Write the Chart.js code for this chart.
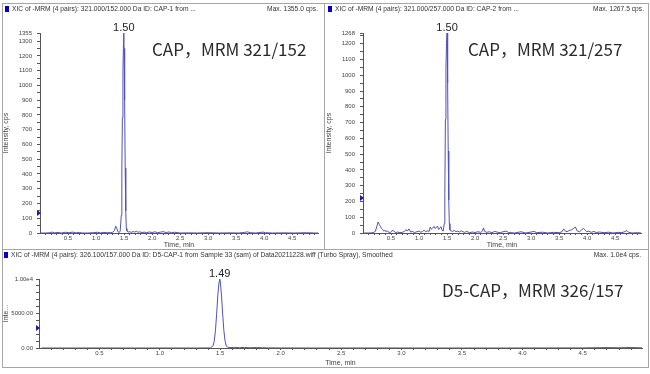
<!DOCTYPE html>
<html>
<head>
<meta charset="utf-8">
<script src="https://cdn.jsdelivr.net/npm/chart.js@4.4.0/dist/chart.umd.min.js"></script>
<style>
    body { margin: 0; background: #fff; }
    #page { position: relative; width: 650px; height: 374px; overflow: hidden; font-family: "Liberation Sans", Arial, sans-serif; }
    .panel { position: absolute; border: 1px solid #a6a6a6; box-sizing: border-box; }
    canvas { position: absolute; }
    .head { position: absolute; font-size: 6.7px; line-height: 8px; color: #333; white-space: nowrap; }
    .head .sq { display: inline-block; width: 4px; height: 6px; background: #0000d0; margin-right: 3px; vertical-align: -1px; }
    .big { position: absolute; font-family: "Noto Sans CJK SC", "Noto Sans", sans-serif; font-size: 17px; line-height: 17px; color: #2a2a2a; white-space: nowrap; }
</style>
</head>
<body>
<div id="page">
    <div class="panel" style="left:2px;top:3px;width:323px;height:247px"></div>
    <div class="panel" style="left:324px;top:3px;width:325px;height:247px"></div>
    <div class="panel" style="left:2px;top:249px;width:647px;height:119px"></div>

    <canvas id="chartA" width="322" height="246" style="left:2px;top:3px"></canvas>
    <canvas id="chartB" width="323" height="246" style="left:325px;top:3px"></canvas>
    <canvas id="chartC" width="646" height="117" style="left:2px;top:250px"></canvas>

    <div class="head" style="left:5px;top:5px"><span class="sq"></span>XIC of -MRM (4 pairs): 321.000/152.000 Da ID: CAP-1 from ...</div>
    <div class="head" style="right:332px;top:5px">Max. 1355.0 cps.</div>
    <div class="head" style="left:328px;top:5px"><span class="sq"></span>XIC of -MRM (4 pairs): 321.000/257.000 Da ID: CAP-2 from ...</div>
    <div class="head" style="right:6px;top:5px">Max. 1267.5 cps.</div>
    <div class="head" style="left:4px;top:251px"><span class="sq"></span>XIC of -MRM (4 pairs): 326.100/157.000 Da ID: D5-CAP-1 from Sample 33 (sam) of Data20211228.wiff (Turbo Spray), Smoothed</div>
    <div class="head" style="right:9px;top:251px">Max. 1.0e4 cps.</div>

    <div class="big" style="left:152px;top:40px">CAP，MRM 321/152</div>
    <div class="big" style="left:468px;top:40px">CAP，MRM 321/257</div>
    <div class="big" style="left:442px;top:281px">D5-CAP，MRM 326/157</div>
</div>
<script>
(function () {
    // --- Data ---
    const capATimes = [0.02, 0.10, 0.18, 0.22, 0.26, 0.32, 0.38, 0.45, 0.52, 0.58, 0.64, 0.70, 0.76, 0.85, 0.95,
        1.02, 1.08, 1.14, 1.20, 1.26, 1.30, 1.33, 1.35, 1.37, 1.39, 1.41, 1.43, 1.45, 1.46, 1.47, 1.48, 1.49,
        1.495, 1.50, 1.51, 1.52, 1.53, 1.54, 1.55, 1.57, 1.60, 1.63, 1.66, 1.69, 1.72, 1.75, 1.78, 1.82, 1.86,
        1.90, 1.95, 2.00, 2.05, 2.10, 2.15, 2.20, 2.25, 2.30, 2.35, 2.40, 2.50, 2.65, 2.80, 3.00, 3.20, 3.40,
        3.55, 3.65, 3.70, 3.75, 3.85, 3.98, 4.02, 4.15, 4.35, 4.55, 4.75, 4.90, 4.96];
    const capAValues = [0, 0, 2, 6, 1, 4, 0, 5, 2, 6, 1, 3, 0, 0, 2,
        5, 1, 4, 2, 3, 5, 18, 47, 30, 8, 4, 10, 120, 420, 780, 1100, 1300,
        1355, 1250, 900, 440, 150, 30, 14, 6, 9, 4, 10, 6, 12, 5, 8, 3, 6,
        2, 7, 3, 8, 2, 6, 9, 3, 7, 2, 5, 0, 1, 0, 2, 0, 1,
        0, 4, 8, 2, 0, 6, 2, 0, 1, 0, 2, 0, 0];

    const capBTimes = [0.02, 0.10, 0.18, 0.22, 0.25, 0.27, 0.29, 0.31, 0.33, 0.35, 0.37, 0.39, 0.41, 0.43, 0.46,
        0.49, 0.52, 0.55, 0.58, 0.62, 0.66, 0.70, 0.74, 0.77, 0.79, 0.82, 0.85, 0.88, 0.92, 0.96, 1.00, 1.03,
        1.06, 1.09, 1.12, 1.15, 1.18, 1.20, 1.22, 1.24, 1.27, 1.29, 1.31, 1.33, 1.35, 1.37, 1.39, 1.41, 1.43,
        1.45, 1.46, 1.47, 1.48, 1.49, 1.50, 1.51, 1.52, 1.53, 1.54, 1.55, 1.57, 1.60, 1.63, 1.66, 1.69, 1.72,
        1.75, 1.78, 1.81, 1.85, 1.90, 1.95, 2.00, 2.05, 2.10, 2.13, 2.15, 2.17, 2.21, 2.25, 2.30, 2.35, 2.40,
        2.45, 2.50, 2.55, 2.60, 2.70, 2.78, 2.82, 2.90, 3.00, 3.05, 3.10, 3.20, 3.30, 3.40, 3.50, 3.55, 3.58,
        3.61, 3.64, 3.68, 3.72, 3.76, 3.79, 3.82, 3.86, 3.90, 3.93, 3.96, 3.99, 4.03, 4.07, 4.12, 4.16, 4.22,
        4.30, 4.38, 4.46, 4.55, 4.62, 4.68, 4.71, 4.74, 4.80, 4.90, 4.96];
    const capBValues = [0, 0, 2, 10, 45, 70, 55, 42, 30, 22, 12, 18, 8, 14, 5,
        3, 16, 12, 3, 6, 2, 4, 10, 22, 12, 26, 6, 10, 3, 8, 12, 5,
        9, 18, 8, 14, 10, 38, 24, 30, 42, 28, 36, 44, 22, 30, 40, 18, 12,
        60, 250, 720, 1040, 1200, 1268, 950, 520, 210, 60, 20, 14, 10, 16, 8, 12, 6,
        14, 9, 4, 10, 2, 6, 3, 8, 4, 12, 32, 10, 4, 8, 2, 10, 5,
        2, 8, 12, 3, 0, 5, 8, 0, 6, 10, 2, 5, 0, 4, 2, 8, 26,
        12, 8, 16, 20, 30, 38, 14, 8, 18, 30, 20, 8, 12, 4, 10, 3, 6,
        2, 5, 0, 4, 2, 10, 16, 4, 0, 2, 0];

    const d5Times = [0.02, 0.30, 0.50, 0.80, 1.10, 1.30, 1.40, 1.42, 1.44, 1.45, 1.46, 1.47, 1.48, 1.49, 1.495,
        1.50, 1.51, 1.52, 1.53, 1.54, 1.55, 1.56, 1.58, 1.62, 1.66, 1.70, 1.75, 1.80, 1.85, 1.90, 2.00, 2.30,
        2.80, 3.30, 3.80, 4.20, 4.50, 4.70, 4.80, 4.90, 4.99];
    const d5Values = [0, 0, 5, 0, 4, 0, 10, 40, 300, 1000, 2500, 4900, 7700, 9600, 10000,
        9700, 7700, 4900, 2500, 1000, 300, 120, 60, 90, 50, 80, 40, 70, 40, 20, 10, 0,
        5, 0, 0, 10, 20, 60, 40, 70, 30];

    const xTickLabels = ['0.5', '1.0', '1.5', '2.0', '2.5', '3.0', '3.5', '4.0', '4.5'];
    const capAYTicks = [0, 100, 200, 300, 400, 500, 600, 700, 800, 900, 1000, 1100, 1200, 1300, 1355];
    const capBYTicks = [0, 100, 200, 300, 400, 500, 600, 700, 800, 900, 1000, 1100, 1200, 1268];
    const d5YTicks = [0, 5000, 10000];
    const d5YLabels = ['0.00', '5000.00', '1.00e4'];
    const peakLabels = ['1.50', '1.50', '1.49'];
    const thresholds = [135, 222, 2900];

    const LINE_COLOR = '#5050c0';
    const AXIS_COLOR = '#555';
    const TEXT_COLOR = '#444';

    Chart.defaults.font.family = '"Liberation Sans", Arial, sans-serif';

    // --- Plugins ---
    const peakLabelPlugin = {
        id: 'peakLabel',
        afterDatasetsDraw(chart, args, opts) {
            const pts = chart.data.datasets[0].data;
            let top = pts[0];
            pts.forEach(p => { if (p.y > top.y) top = p; });
            const x = chart.scales.x.getPixelForValue(top.x);
            const y = chart.scales.y.getPixelForValue(top.y);
            const c = chart.ctx;
            c.save();
            c.font = '11px "Liberation Sans", Arial, sans-serif';
            c.fillStyle = '#222';
            c.textAlign = 'center';
            c.textBaseline = 'alphabetic';
            c.fillText(opts.text, x, y - 2);
            c.restore();
        }
    };

    const thresholdPlugin = {
        id: 'threshold',
        afterDraw(chart, args, opts) {
            const y = chart.scales.y.getPixelForValue(opts.value);
            const x = chart.chartArea.left;
            const c = chart.ctx;
            c.save();
            c.fillStyle = '#1a1ab4';
            c.beginPath();
            c.moveTo(x - 3, y - 3);
            c.lineTo(x + 1, y);
            c.lineTo(x - 3, y + 3);
            c.closePath();
            c.fill();
            c.restore();
        }
    };

    function steps(step, max) {
        const out = [];
        for (let v = step; v < max; v += step) out.push(Math.round(v * 1000) / 1000);
        return out;
    }

    function buildChart(id, cfg) {
        const ctx = document.getElementById(id).getContext('2d');
        const xMinor = steps(0.1, cfg.xMax);
        const yAll = [...new Set([...steps(cfg.yMinorStep, cfg.yMax), ...cfg.yTicks])].sort((a, b) => a - b);

        return new Chart(ctx, {
            type: 'line',
            data: {
                datasets: [{
                    data: cfg.times.map((t, i) => ({ x: t, y: cfg.values[i] })),
                    borderColor: LINE_COLOR,
                    borderWidth: 1,
                    pointRadius: 0,
                    tension: 0,
                    fill: false
                }]
            },
            options: {
                responsive: false,
                animation: false,
                devicePixelRatio: 1,
                layout: { padding: { top: cfg.padTop, right: cfg.padRight, left: 0, bottom: 0 } },
                plugins: {
                    legend: { display: false },
                    tooltip: { enabled: false },
                    peakLabel: { text: cfg.peakText },
                    threshold: { value: cfg.threshold }
                },
                scales: {
                    x: {
                        type: 'linear',
                        min: 0,
                        max: cfg.xMax,
                        afterBuildTicks: s => { s.ticks = xMinor.map(v => ({ value: v })); },
                        afterFit: s => { s.height = cfg.xHeight; },
                        ticks: {
                            autoSkip: false,
                            maxRotation: 0,
                            padding: 0,
                            color: TEXT_COLOR,
                            font: { size: 6 },
                            callback: v => {
                                const s = Number(v).toFixed(1);
                                return xTickLabels.includes(s) ? s : '';
                            }
                        },
                        grid: { drawOnChartArea: false, tickLength: 2, color: AXIS_COLOR },
                        border: { color: AXIS_COLOR },
                        title: { display: true, text: 'Time, min', color: TEXT_COLOR, font: { size: 7 }, padding: 0 }
                    },
                    y: {
                        type: 'linear',
                        min: 0,
                        max: cfg.yMax,
                        afterBuildTicks: s => { s.ticks = yAll.map(v => ({ value: v })); },
                        afterFit: s => { s.width = cfg.yWidth; },
                        ticks: {
                            autoSkip: false,
                            padding: cfg.yPad,
                            color: TEXT_COLOR,
                            font: { size: 6 },
                            callback: v => {
                                const i = cfg.yTicks.indexOf(v);
                                return i >= 0 ? cfg.yLabels[i] : '';
                            }
                        },
                        grid: { drawOnChartArea: false, tickLength: 3, color: AXIS_COLOR },
                        border: { color: AXIS_COLOR },
                        title: { display: true, text: cfg.yTitle, color: TEXT_COLOR, font: { size: 7 }, padding: 0 }
                    }
                }
            },
            plugins: [peakLabelPlugin, thresholdPlugin]
        });
    }

    buildChart('chartA', {
        times: capATimes, values: capAValues, xMax: 4.96, yMax: 1355,
        yTicks: capAYTicks, yLabels: capAYTicks.map(String), yMinorStep: 50,
        padTop: 30, padRight: 6, xHeight: 16, yWidth: 38, yPad: 5,
        yTitle: 'Intensity, cps', peakText: peakLabels[0], threshold: thresholds[0]
    });

    buildChart('chartB', {
        times: capBTimes, values: capBValues, xMax: 4.96, yMax: 1268,
        yTicks: capBYTicks, yLabels: capBYTicks.map(String), yMinorStep: 50,
        padTop: 30, padRight: 7, xHeight: 16, yWidth: 38, yPad: 5,
        yTitle: 'Intensity, cps', peakText: peakLabels[1], threshold: thresholds[1]
    });

    buildChart('chartC', {
        times: d5Times, values: d5Values, xMax: 4.99, yMax: 10000,
        yTicks: d5YTicks, yLabels: d5YLabels, yMinorStep: 1000,
        padTop: 29, padRight: 6, xHeight: 19, yWidth: 37, yPad: 3,
        yTitle: 'Inte...', peakText: peakLabels[2], threshold: thresholds[2]
    });
})();
</script>
</body>
</html>
